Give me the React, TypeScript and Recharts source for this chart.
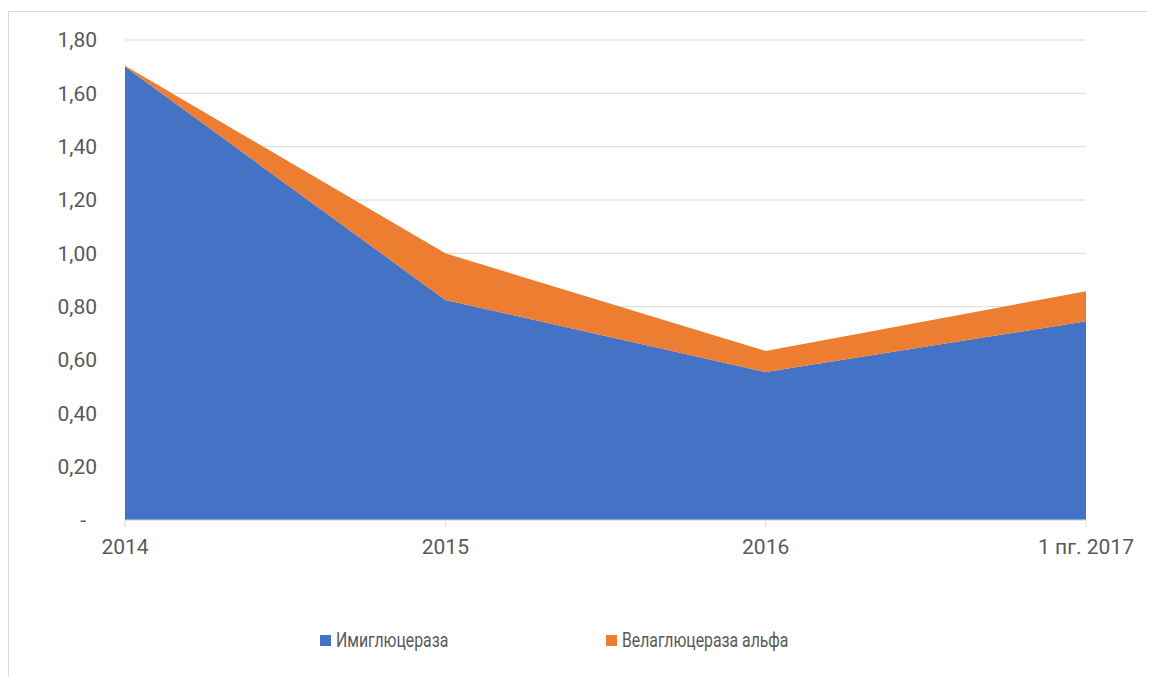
import { AreaChart, Area, XAxis, YAxis, CartesianGrid } from "recharts";

const periods = ["2014", "2015", "2016", "1 пг. 2017"];
const imiglucerase = [1.7, 0.825, 0.555, 0.745];
const velaglucerase = [0.003, 0.175, 0.079, 0.113];
const yTicks = [0, 0.2, 0.4, 0.6, 0.8, 1.0, 1.2, 1.4, 1.6, 1.8];

const series = [
  { key: "imi", name: "Имиглюцераза", color: "#4472C4" },
  { key: "vela", name: "Велаглюцераза альфа", color: "#ED7D31" },
];

const data = periods.map((p, i) => ({
  period: p,
  imi: imiglucerase[i],
  vela: velaglucerase[i],
}));

const FONT = "Roboto, 'Noto Sans', sans-serif";
const TEXT = "#595959";
const GRID = "#d9d9d9";

const fmt = (v: number) => (v === 0 ? "-" : v.toFixed(2).replace(".", ","));

// Excel puts the zero dash a bit left of the other labels
function YTick(props: any) {
  const { x, y, payload } = props;
  const v = payload.value as number;
  return (
    <text
      x={v === 0 ? x - 11 : x}
      y={y}
      dy="0.355em"
      textAnchor="end"
      fill={TEXT}
      fontSize={21}
      fontFamily={FONT}
    >
      {fmt(v)}
    </text>
  );
}

export default function App() {
  return (
    <div
      style={{
        position: "relative",
        top: 3,
        width: 1146,
        height: 672,
        border: `1px solid ${GRID}`,
        boxSizing: "border-box",
        fontFamily: FONT,
        background: "#fff",
      }}
    >
      <AreaChart
        width={1144}
        height={664}
        data={data}
        margin={{ top: 28, right: 67, left: 0, bottom: 126 }}
      >
        <CartesianGrid vertical={false} stroke={GRID} />
        <XAxis
          dataKey="period"
          interval={0}
          stroke={GRID}
          tickSize={7}
          tickMargin={12}
          tick={{ fill: TEXT, fontSize: 21, fontFamily: FONT }}
        />
        <YAxis
          width={116}
          domain={[0, 1.8]}
          ticks={yTicks}
          axisLine={false}
          tickLine={false}
          tickSize={6}
          tickMargin={22}
          tick={<YTick />}
        />
        {series.map((s) => (
          <Area
            key={s.key}
            type="linear"
            dataKey={s.key}
            name={s.name}
            stackId="1"
            stroke="none"
            fill={s.color}
            fillOpacity={1}
            isAnimationActive={false}
          />
        ))}
      </AreaChart>
      <div
        style={{
          position: "absolute",
          top: 616,
          left: 311,
          height: 24,
          display: "flex",
          alignItems: "center",
        }}
      >
        {series.map((s) => (
          <div
            key={s.key}
            style={{ display: "flex", alignItems: "center", width: 286 }}
          >
            <span
              style={{
                width: 11,
                height: 11,
                background: s.color,
                marginRight: 5,
                display: "inline-block",
              }}
            />
            <span
              style={{
                color: TEXT,
                fontSize: 20,
                whiteSpace: "nowrap",
                display: "inline-block",
                transform: "scaleX(0.79)",
                transformOrigin: "left center",
              }}
            >
              {s.name}
            </span>
          </div>
        ))}
      </div>
    </div>
  );
}
